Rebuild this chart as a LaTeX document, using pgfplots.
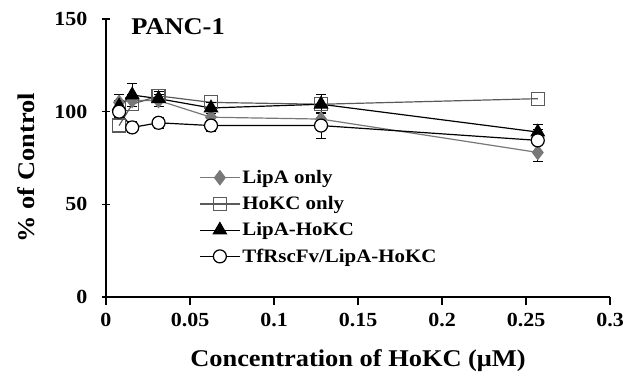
\documentclass[border=0pt]{standalone}
\usepackage{fontspec}
\setmainfont{Liberation Serif}[FakeStretch=1.1]
\usepackage{pgfplots}
\pgfplotsset{compat=1.18}
\definecolor{lgray}{RGB}{120,120,120}
\definecolor{lineg}{RGB}{90,90,90}
\begin{document}
\begin{tikzpicture}
\path[use as bounding box] (0,0) rectangle (642pt,383pt);
\begin{axis}[
  at={(106pt,86pt)}, anchor=south west,
  scale only axis, width=504pt, height=278pt,
  xmin=0, xmax=0.3, ymin=0, ymax=150,
  clip=false,
  axis lines*=left,
  axis line style={line width=1.3pt},
  xtick={0,0.05,0.1,0.15,0.2,0.25,0.3},
  xticklabels={0,0.05,0.1,0.15,0.2,0.25,0.3},
  ytick={0,50,100,150},
  xtick align=outside, ytick align=center,
  major tick length=8pt,
  tick style={line width=1.3pt, black},
  /pgf/number format/assume math mode=true,
  ticklabel style={font=\bfseries\fontsize{20}{23}\selectfont},
  xticklabel style={yshift=-5pt},
  yticklabel style={xshift=-11pt},
  xlabel={Concentration of HoKC (μM)},
  ylabel={\% of Control},
  label style={font=\bfseries\fontsize{24}{28}\selectfont},
  xlabel style={at={(axis description cs:0.5,0)}, anchor=center, yshift=-64pt},
  ylabel style={at={(axis description cs:-0.158,0.465)}, anchor=center},
  legend style={draw=none, fill=none, at={(axis cs:0.0554,69.5)}, anchor=north west,
    font=\bfseries\fontsize{19}{22}\selectfont, row sep=7.5pt, inner sep=0pt},
  legend cell align=left,
  legend image code/.code={\draw[mark repeat=2,mark phase=2] plot coordinates {(0pt,0pt) (20pt,0pt) (40pt,0pt)};},
  error bars/error bar style={line width=1pt, black},
  error bars/error mark options={rotate=90, mark size=5pt, line width=1pt, black},
]
% LipA only
\addplot[line width=1.2pt, lgray, mark=diamond*, mark size=7pt, mark options={fill=lgray, draw=lgray},
  error bars/.cd, y dir=both, y explicit]
  coordinates {(0.0078,105) +- (0,4) (0.0156,106) +- (0,3) (0.0313,106) +- (0,3) (0.0625,97) +- (0,3) (0.128,96) +- (0,3) (0.257,78) +- (0,5)};
\addlegendentry{LipA only}
% HoKC only
\addplot[line width=1.2pt, lineg, mark=square, mark size=6.5pt, mark options={fill=white, draw=lineg, line width=1.2pt}]
  coordinates {(0.0078,92.5) (0.0156,104) (0.0313,108.5) (0.0625,105) (0.128,104) (0.257,107)};
\addlegendentry{HoKC only}
% LipA-HoKC
\addplot[line width=1.2pt, black, mark=triangle*, mark size=7.5pt, mark options={fill=black, draw=black},
  error bars/.cd, y dir=both, y explicit]
  coordinates {(0.0078,103) +- (0,3) (0.0156,109) +- (0,6) (0.0313,107) +- (0,4) (0.0625,102) +- (0,3) (0.128,104) +- (0,5) (0.257,89) +- (0,4)};
\addlegendentry{LipA-HoKC}
% TfRscFv/LipA-HoKC
\addplot[line width=1.2pt, black, mark=*, mark size=6.5pt, mark options={fill=white, draw=black, line width=1.2pt},
  error bars/.cd, y dir=both, y explicit]
  coordinates {(0.0078,100) +- (0,3) (0.0156,91.5) +- (0,3) (0.0313,94) +- (0,3) (0.0625,92.5) +- (0,3) (0.128,92.5) +- (0,7) (0.257,84.5) +- (0,6)};
\addlegendentry{TfRscFv/LipA-HoKC}
\node[font=\bfseries\fontsize{24}{28}\selectfont, anchor=west] at (axis cs:0.013,146) {PANC-1};
\end{axis}
\end{tikzpicture}
\end{document}
